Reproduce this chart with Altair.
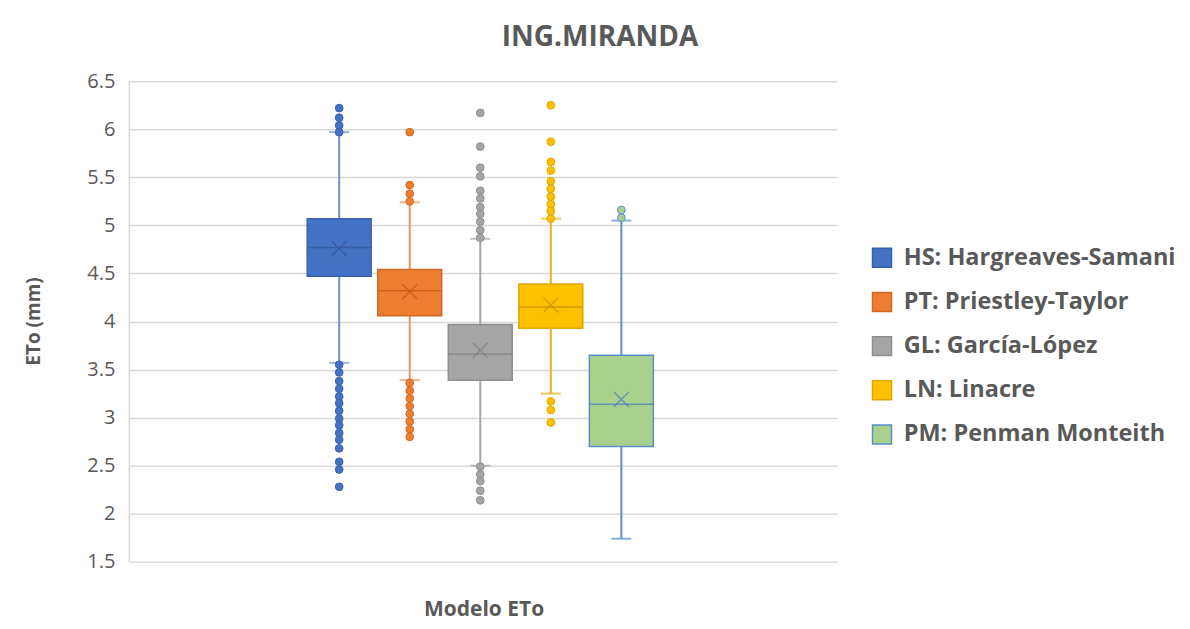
import altair as alt
import pandas as pd

# ---------------- data ----------------
models = ["HS: Hargreaves-Samani", "PT: Priestley-Taylor", "GL: García-López",
          "LN: Linacre", "PM: Penman Monteith"]
whisker_low = [3.57, 3.39, 2.50, 3.25, 1.74]
q1 = [4.47, 4.06, 3.39, 3.93, 2.70]
median = [4.77, 4.32, 3.66, 4.15, 3.14]
mean = [4.76, 4.31, 3.70, 4.17, 3.19]
q3 = [5.07, 4.54, 3.97, 4.39, 3.65]
whisker_high = [5.97, 5.24, 4.86, 5.07, 5.05]

out_hs = [6.22, 6.12, 6.04, 5.97,
          3.55, 3.47, 3.38, 3.30, 3.22, 3.15, 3.07, 2.99, 2.92, 2.84, 2.77,
          2.68, 2.54, 2.46, 2.28]
out_pt = [5.97, 5.42, 5.33, 5.25,
          3.36, 3.28, 3.20, 3.12, 3.04, 2.96, 2.88, 2.80]
out_gl = [6.17, 5.82, 5.60, 5.51, 5.36, 5.28, 5.19, 5.12, 5.04, 4.95, 4.87,
          2.49, 2.41, 2.34, 2.24, 2.14]
out_ln = [6.25, 5.87, 5.66, 5.57, 5.46, 5.38, 5.30, 5.22, 5.15, 5.07,
          3.17, 3.08, 2.95]
out_pm = [5.16, 5.08]

# ---------------- styles ----------------
fills = ["#4472C4", "#ED7D31", "#A5A5A5", "#FFC000", "#A9D18E"]
strokes = ["#3862AE", "#CF6A27", "#8E8E8E", "#DDA600", "#5B8FCB"]
lines = ["#6E91D0", "#E29563", "#A5A5A5", "#E8B21A", "#5B8FCB"]
marks_dark = ["#2F5597", "#C55A11", "#7F7F7F", "#BF9000", "#4A7EBB"]
dot_strokes = ["#3862AE", "#CF6A27", "#8E8E8E", "#DDA600", "#5B8FCB"]

TXT = "#595959"
FONT = "Open Sans"

summary = pd.DataFrame({
    "model": models, "idx": list(range(len(models))),
    "wl": whisker_low, "q1": q1, "median": median,
    "mean": mean, "q3": q3, "wh": whisker_high,
    "line": lines, "dark": marks_dark,
})

outlier_lists = [out_hs, out_pt, out_gl, out_ln, out_pm]
rows = []
for i, (m, vals, f, s) in enumerate(zip(models, outlier_lists, fills, dot_strokes)):
    for v in vals:
        rows.append({"model": m, "idx": i, "value": v, "f": f, "s": s})
outliers = pd.DataFrame(rows)

xscale = alt.Scale(domain=[-2.91, 6.99], nice=False, zero=False)
x_enc = alt.X("idx:Q", scale=xscale,
              axis=alt.Axis(labels=False, ticks=False, domain=False, grid=False,
                            title="Modelo ETo", titleFont=FONT, titleFontSize=21,
                            titleFontWeight="bold", titleColor=TXT,
                            titleX=355, titleY=48, titleBaseline="middle",
                            titleAlign="center"))
yscale = alt.Scale(domain=[1.5, 6.5], nice=False, zero=False)
y_axis = alt.Axis(values=[1.5, 2, 2.5, 3, 3.5, 4, 4.5, 5, 5.5, 6, 6.5],
                  format="~g", title="ETo (mm)", titleFont=FONT, titleFontSize=19,
                  titleFontWeight="bold", titleColor=TXT, titleAngle=270,
                  titleX=-95, titleY=240, titleAlign="center",
                  titleBaseline="middle",
                  labelFont=FONT, labelFontSize=20, labelColor=TXT,
                  labelPadding=14, ticks=False, domain=True,
                  domainColor="#D9D9D9", domainWidth=1.5,
                  gridColor="#D9D9D9", gridWidth=1.5)

base = alt.Chart(summary)

whisk_lo = base.mark_rule(strokeWidth=2).encode(
    x=x_enc, y=alt.Y("wl:Q", scale=yscale, axis=y_axis), y2="q1:Q",
    color=alt.Color("line:N", scale=None))
whisk_hi = base.mark_rule(strokeWidth=2).encode(
    x=x_enc, y=alt.Y("q3:Q"), y2="wh:Q",
    color=alt.Color("line:N", scale=None))
cap_lo = base.mark_tick(size=20, thickness=2, orient="horizontal").encode(
    x=x_enc, y=alt.Y("wl:Q"), color=alt.Color("line:N", scale=None))
cap_hi = base.mark_tick(size=20, thickness=2, orient="horizontal").encode(
    x=x_enc, y=alt.Y("wh:Q"), color=alt.Color("line:N", scale=None))

box = base.mark_bar(size=64, strokeWidth=1.5).encode(
    x=x_enc, y=alt.Y("q1:Q"), y2="q3:Q",
    fill=alt.Fill("model:N", scale=alt.Scale(domain=models, range=fills),
                  sort=models, title=None),
    stroke=alt.Stroke("model:N", scale=alt.Scale(domain=models, range=strokes),
                      sort=models, title=None))

med = base.mark_tick(size=64, thickness=1.5, orient="horizontal").encode(
    x=x_enc, y=alt.Y("median:Q"), color=alt.Color("dark:N", scale=None))

mean_x = base.mark_point(shape="M-1,-1L1,1M-1,1L1,-1", filled=False,
                         size=220, strokeWidth=1.5).encode(
    x=x_enc, y=alt.Y("mean:Q"), color=alt.Color("dark:N", scale=None))

dots = alt.Chart(outliers).mark_point(filled=True, size=60, strokeWidth=1,
                                      opacity=1, shape="circle").encode(
    x=x_enc, y=alt.Y("value:Q"),
    fill=alt.Fill("f:N", scale=None), stroke=alt.Stroke("s:N", scale=None))

chart = alt.layer(whisk_lo, whisk_hi, cap_lo, cap_hi, box, med, mean_x, dots).resolve_scale(
    fill="independent", stroke="independent", color="independent"
).properties(
    width=709, height=481,
    autosize=alt.AutoSizeParams(type="none"),
    padding={"left": 121, "top": 73, "right": 345, "bottom": 60},
    title=alt.TitleParams("ING.MIRANDA", font=FONT, fontSize=28, fontWeight="bold",
                          color=TXT, anchor="middle", dx=117, offset=19),
).configure(font=FONT, background="white").configure_view(stroke=None).configure_legend(
    orient="none", legendX=742, legendY=165, symbolType="square", symbolSize=361,
    symbolStrokeWidth=1.5, labelFont=FONT, labelFontSize=23.5, labelFontWeight="bold",
    labelColor=TXT, labelOffset=10, rowPadding=18.2, padding=0, labelLimit=400
)

chart.save("out.html", embed_options={"renderer": "svg", "actions": False})
